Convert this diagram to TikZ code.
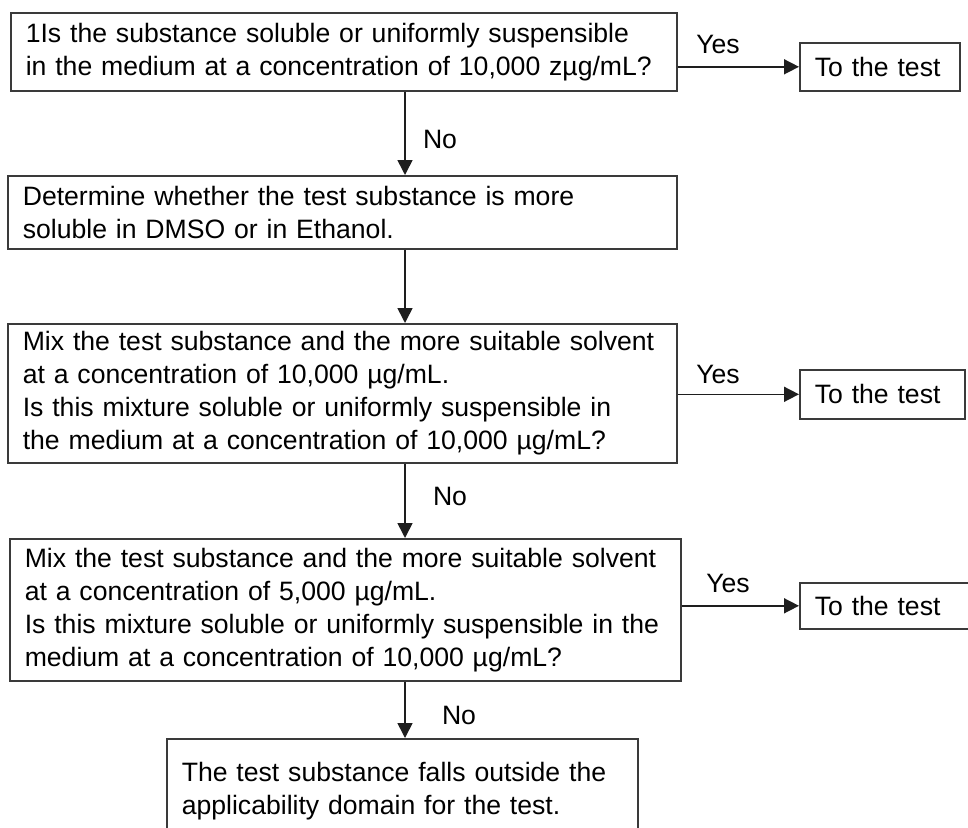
\documentclass[tikz,border=0pt]{standalone}
\usepackage{fontspec}
\setmainfont{Liberation Sans}
\usetikzlibrary{arrows.meta}
\definecolor{cline}{HTML}{3A3A3A}
\definecolor{carrow}{HTML}{1E1E1E}
\tikzset{
  every picture/.style={font=\fontsize{26.6}{33}\selectfont, line width=1.6pt, x=1pt, y=-1pt},
  box/.style={draw=cline, align=left, anchor=north west, inner xsep=15pt, inner ysep=0pt},
  arrow/.style={-{Triangle[length=15pt, width=15pt]}, draw=carrow},
  note/.style={inner sep=0pt, anchor=base},
}
\begin{document}
\begin{tikzpicture}
  \useasboundingbox (0,0) rectangle (968,827);
  \clip (0,0) rectangle (968,827);
  \newcommand{\totest}[4]{% id, y, text width, height
    \node[box, text width=#3, minimum height=#4] (#1) at (799,#2) {To the test};}
  \node[box, text width=636pt, minimum height=78pt] (q1) at (10,12)
    {1Is the substance soluble or uniformly suspensible\\in the medium at a concentration of 10,000 zµg/mL?};
  \node[box, text width=639pt, minimum height=73pt] (q2) at (7,175)
    {Determine whether the test substance is more\\soluble in DMSO or in Ethanol.};
  \node[box, text width=639pt, minimum height=139pt] (q3) at (7,323)
    {Mix the test substance and the more suitable solvent\\at a concentration of 10,000 µg/mL.\\Is this mixture soluble or uniformly suspensible in\\the medium at a concentration of 10,000 µg/mL?};
  \node[box, text width=641pt, minimum height=142pt] (q4) at (9,538)
    {Mix the test substance and the more suitable solvent\\at a concentration of 5,000 µg/mL.\\Is this mixture soluble or uniformly suspensible in the\\medium at a concentration of 10,000 µg/mL?};
  \node[box, text width=441pt, minimum height=104pt] (fail) at (166,738)
    {The test substance falls outside the\\applicability domain for the test.};
  \totest{t1}{42}{130pt}{48pt}
  \totest{t2}{369}{135pt}{49pt}
  \totest{t3}{582}{150pt}{46pt}
  \coordinate (spine) at (405,0);
  \foreach \a/\b in {q1/q2,q2/q3,q3/q4,q4/fail} \draw[arrow] (\a.south -| spine) -- (\b.north -| spine);
  \foreach \q/\t in {q1/t1,q3/t2,q4/t3} \draw[arrow] (\q.east |- \t.west) -- (\t.west);
  \node[note] (yes1) at (718,53) {Yes};
  \node[note] (yes2) at (718,383) {Yes};
  \node[note] (yes3) at (728,592) {Yes};
  \node[note] (no1) at (440,148) {No};
  \node[note] (no2) at (450,505) {No};
  \node[note] (no3) at (459,724) {No};
\end{tikzpicture}
\end{document}
